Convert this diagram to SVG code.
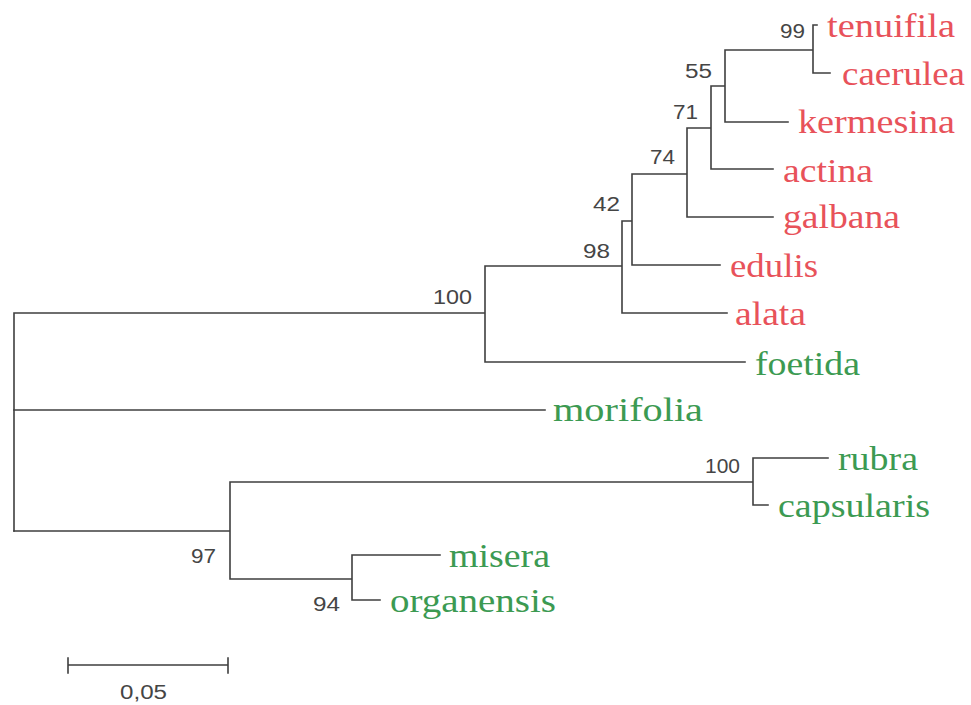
<svg xmlns="http://www.w3.org/2000/svg" width="971" height="705" viewBox="0 0 971 705">
<style>
.br{fill:none;stroke:#3f3f3f;stroke-width:1.6;stroke-linecap:square}
.sp{font-family:"Liberation Serif","Times New Roman",serif;font-size:34px}
.red{fill:#e8525a}
.grn{fill:#3c9a52}
.bs{font-family:"Liberation Sans",Arial,sans-serif;font-size:20.5px;fill:#454545}
</style>
<rect width="971" height="705" fill="#ffffff"/>
<g id="connectors">
<path class="br" d="M14,313 V531 M14,313 H485 M485,266 V362 M485,362 H745 M485,266 H622 M622,221 V313 M622,313 H727 M622,221 H632 M632,174 V265 M632,265 H720 M632,174 H687 M687,128 V217 M687,217 H773 M687,128 H711 M711,86 V169 M711,169 H773 M711,86 H725 M725,50 V122 M725,122 H788 M725,50 H813 M813,25 V73 M813,25 H817 M813,73 H830"/>
<path class="br" d="M14,410 H545"/>
<path class="br" d="M14,531 H230 M230,482 V579 M230,482 H753 M753,458 V505 M753,458 H828 M753,505 H768 M230,579 H352 M352,555 V600 M352,555 H440 M352,600 H380"/>
</g>
<g id="n-tenuifila"><text class="sp red" x="827" y="37" textLength="128" lengthAdjust="spacingAndGlyphs">tenuifila</text></g>
<g id="n-caerulea"><text class="sp red" x="842" y="85" textLength="123" lengthAdjust="spacingAndGlyphs">caerulea</text></g>
<g id="n-kermesina"><text class="sp red" x="798" y="133" textLength="157" lengthAdjust="spacingAndGlyphs">kermesina</text></g>
<g id="n-actina"><text class="sp red" x="783" y="182" textLength="90" lengthAdjust="spacingAndGlyphs">actina</text></g>
<g id="n-galbana"><text class="sp red" x="783" y="228" textLength="117" lengthAdjust="spacingAndGlyphs">galbana</text></g>
<g id="n-edulis"><text class="sp red" x="730" y="277" textLength="88" lengthAdjust="spacingAndGlyphs">edulis</text></g>
<g id="n-alata"><text class="sp red" x="735" y="325" textLength="71" lengthAdjust="spacingAndGlyphs">alata</text></g>
<g id="n-foetida"><text class="sp grn" x="755" y="375" textLength="105" lengthAdjust="spacingAndGlyphs">foetida</text></g>
<g id="n-morifolia"><text class="sp grn" x="553" y="421" textLength="150" lengthAdjust="spacingAndGlyphs">morifolia</text></g>
<g id="n-rubra"><text class="sp grn" x="838" y="470" textLength="80" lengthAdjust="spacingAndGlyphs">rubra</text></g>
<g id="n-capsularis"><text class="sp grn" x="778" y="517" textLength="152" lengthAdjust="spacingAndGlyphs">capsularis</text></g>
<g id="n-misera"><text class="sp grn" x="449" y="567" textLength="101" lengthAdjust="spacingAndGlyphs">misera</text></g>
<g id="n-organensis"><text class="sp grn" x="390" y="612" textLength="166" lengthAdjust="spacingAndGlyphs">organensis</text></g>
<g id="bootstrap">
<text class="bs" x="780" y="38" textLength="25" lengthAdjust="spacingAndGlyphs">99</text>
<text class="bs" x="685" y="78" textLength="27" lengthAdjust="spacingAndGlyphs">55</text>
<text class="bs" x="673" y="119" textLength="25" lengthAdjust="spacingAndGlyphs">71</text>
<text class="bs" x="650" y="164" textLength="25" lengthAdjust="spacingAndGlyphs">74</text>
<text class="bs" x="593" y="211" textLength="27" lengthAdjust="spacingAndGlyphs">42</text>
<text class="bs" x="583" y="258" textLength="27" lengthAdjust="spacingAndGlyphs">98</text>
<text class="bs" x="433" y="304" textLength="39" lengthAdjust="spacingAndGlyphs">100</text>
<text class="bs" x="705" y="473" textLength="35" lengthAdjust="spacingAndGlyphs">100</text>
<text class="bs" x="191" y="563" textLength="25" lengthAdjust="spacingAndGlyphs">97</text>
<text class="bs" x="313" y="611" textLength="27" lengthAdjust="spacingAndGlyphs">94</text>
</g>
<g id="scale">
<path class="br" d="M68,665 H228 M68,658 V673 M228,658 V673"/>
<text class="bs" x="120" y="699" textLength="47" lengthAdjust="spacingAndGlyphs">0,05</text>
</g>
</svg>
